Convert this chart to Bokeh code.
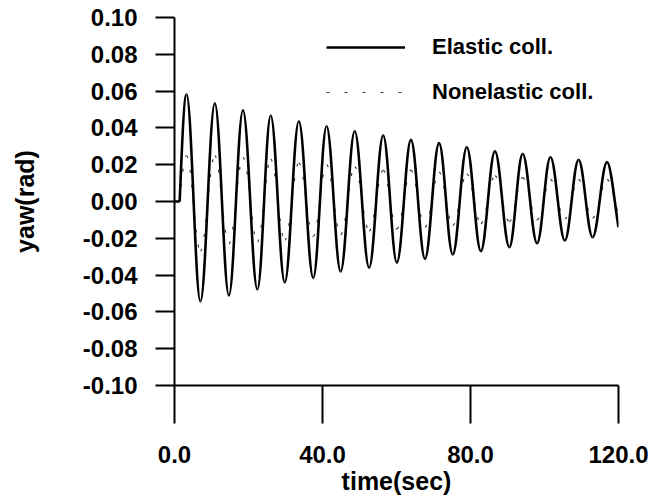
from bokeh.plotting import figure
from bokeh.models import Range1d, FixedTicker, Legend, LegendItem
from bokeh.embed import file_html
from bokeh.resources import INLINE

# ---------------- data ----------------
# time (s) of successive extrema (peak, trough, peak, ...)
ext_t = [3.25, 7.0, 10.9, 14.7, 18.5, 22.4, 26.0, 29.8, 33.6, 37.5, 41.1, 44.9,
         48.7, 52.6, 56.4, 60.1, 63.9, 67.7, 71.5, 75.2, 79.0, 82.8, 86.6, 90.5,
         94.1, 98.0, 101.6, 105.5, 109.2, 113.0, 116.9]
# elastic collision: yaw value at each extremum (rad)
elastic_ext = [0.0582, -0.0543, 0.0534, -0.0510, 0.0496, -0.0478, 0.0467, -0.0440,
               0.0436, -0.0415, 0.0409, -0.0380, 0.0382, -0.0360, 0.0359, -0.0332,
               0.0335, -0.0311, 0.0317, -0.0288, 0.0295, -0.0270, 0.0273, -0.0248,
               0.0259, -0.0227, 0.0241, -0.0212, 0.0226, -0.0194, 0.0214]
# nonelastic collision: yaw value at each extremum (rad)
nonelastic_ext = [0.025, -0.027, 0.025, -0.023, 0.024, -0.022, 0.023, -0.021,
                  0.021, -0.019, 0.020, -0.018, 0.019, -0.016, 0.017, -0.015,
                  0.017, -0.014, 0.016, -0.013, 0.015, -0.012, 0.014, -0.011,
                  0.013, -0.010, 0.012, -0.0095, 0.012, -0.009, 0.012]
rest_t = [0.0, 1.4]    # yaw stays 0 until the motion starts
rest_y = [0.0, 0.0]
end_t = 120.0
elastic_end = -0.014
nonelastic_end = -0.007

x_ticks = [0, 40, 80, 120]
x_tick_labels = ["0.0", "40.0", "80.0", "120.0"]
y_ticks = [-0.10, -0.08, -0.06, -0.04, -0.02, 0.0, 0.02, 0.04, 0.06, 0.08, 0.10]
y_tick_labels = ["-0.10", "-0.08", "-0.06", "-0.04", "-0.02", "0.00",
                 "0.02", "0.04", "0.06", "0.08", "0.10"]

FONT = "Liberation Sans"


def bezier_segments(ts, ys, t0, t_end, y_end):
    """Smooth curve through the extrema: one cubic Bezier per half wave."""
    k = 0.364
    seg = dict(x0=[], y0=[], x1=[], y1=[], cx0=[], cy0=[], cx1=[], cy1=[])

    def add(a, b, c0, c1):
        seg["x0"].append(a[0]); seg["y0"].append(a[1])
        seg["x1"].append(b[0]); seg["y1"].append(b[1])
        seg["cx0"].append(c0[0]); seg["cy0"].append(c0[1])
        seg["cx1"].append(c1[0]); seg["cy1"].append(c1[1])

    dt = ts[0] - t0
    add((t0, 0.0), (ts[0], ys[0]), (t0 + dt / 3, ys[0] * 0.5236), (ts[0] - dt * 0.36, ys[0]))
    for i in range(len(ts) - 1):
        dt = ts[i + 1] - ts[i]
        add((ts[i], ys[i]), (ts[i + 1], ys[i + 1]),
            (ts[i] + k * dt, ys[i]), (ts[i + 1] - k * dt, ys[i + 1]))
    dt = t_end - ts[-1]
    add((ts[-1], ys[-1]), (t_end, y_end),
        (ts[-1] + dt / 3, ys[-1]), (t_end - dt / 3, y_end + (ys[-1] - y_end) * 0.35))
    return seg


p = figure(width=648, height=500, output_backend="svg", toolbar_location=None,
           x_range=Range1d(0, 120), y_range=Range1d(-0.10, 0.10),
           min_border_left=174, min_border_right=30, min_border_top=17, min_border_bottom=115)
p.outline_line_color = None
p.xgrid.visible = False
p.ygrid.visible = False
p.background_fill_color = "white"

ne = bezier_segments(ext_t, nonelastic_ext, rest_t[-1], end_t, nonelastic_end)
el = bezier_segments(ext_t, elastic_ext, rest_t[-1], end_t, elastic_end)

DASH_COLOR = "#3a3a3a"
r_ne = p.line(x=rest_t, y=rest_y, line_color=DASH_COLOR, line_width=1.2, line_dash="3 15")
p.bezier(line_color=DASH_COLOR, line_width=1.2, line_dash="3 12", **ne)
r_el = p.line(x=rest_t, y=rest_y, line_color="black", line_width=2.6)
p.bezier(line_color="black", line_width=2.6, **el)

legend = Legend(items=[LegendItem(label="Elastic coll.", renderers=[r_el]),
                       LegendItem(label="Nonelastic coll.", renderers=[r_ne])],
                location=(152, 278), glyph_width=79, glyph_height=30, label_height=30,
                label_standoff=27, spacing=15, padding=0, margin=0,
                border_line_color=None, background_fill_alpha=0,
                label_text_font=FONT, label_text_font_style="bold",
                label_text_font_size="22px", label_text_color="black")
p.add_layout(legend)

for ax in (p.xaxis[0], p.yaxis[0]):
    ax.axis_line_width = 2
    ax.axis_line_color = "black"
    ax.major_tick_line_width = 2
    ax.major_tick_line_color = "black"
    ax.major_tick_in = 0
    ax.minor_tick_line_color = None
    ax.major_label_text_font = FONT
    ax.major_label_text_font_style = "bold"
    ax.major_label_text_font_size = "24px"
    ax.major_label_text_color = "black"
    ax.axis_label_text_font = FONT
    ax.axis_label_text_font_style = "bold"
    ax.axis_label_text_font_size = "25px"
    ax.axis_label_text_color = "black"

p.xaxis.ticker = FixedTicker(ticks=x_ticks)
p.xaxis.major_label_overrides = dict(zip(x_ticks, x_tick_labels))
p.xaxis.major_tick_out = 38
p.xaxis.major_label_standoff = 22
p.xaxis.axis_label = "time(sec)"
p.xaxis.axis_label_standoff = 1

p.yaxis.ticker = FixedTicker(ticks=y_ticks)
p.yaxis.major_label_overrides = dict(zip(y_ticks, y_tick_labels))
p.yaxis.major_tick_out = 19
p.yaxis.major_label_standoff = 18
p.yaxis.axis_label = "yaw(rad)"
p.yaxis.axis_label_standoff = 41

open("out.html", "w").write(file_html(p, INLINE))
